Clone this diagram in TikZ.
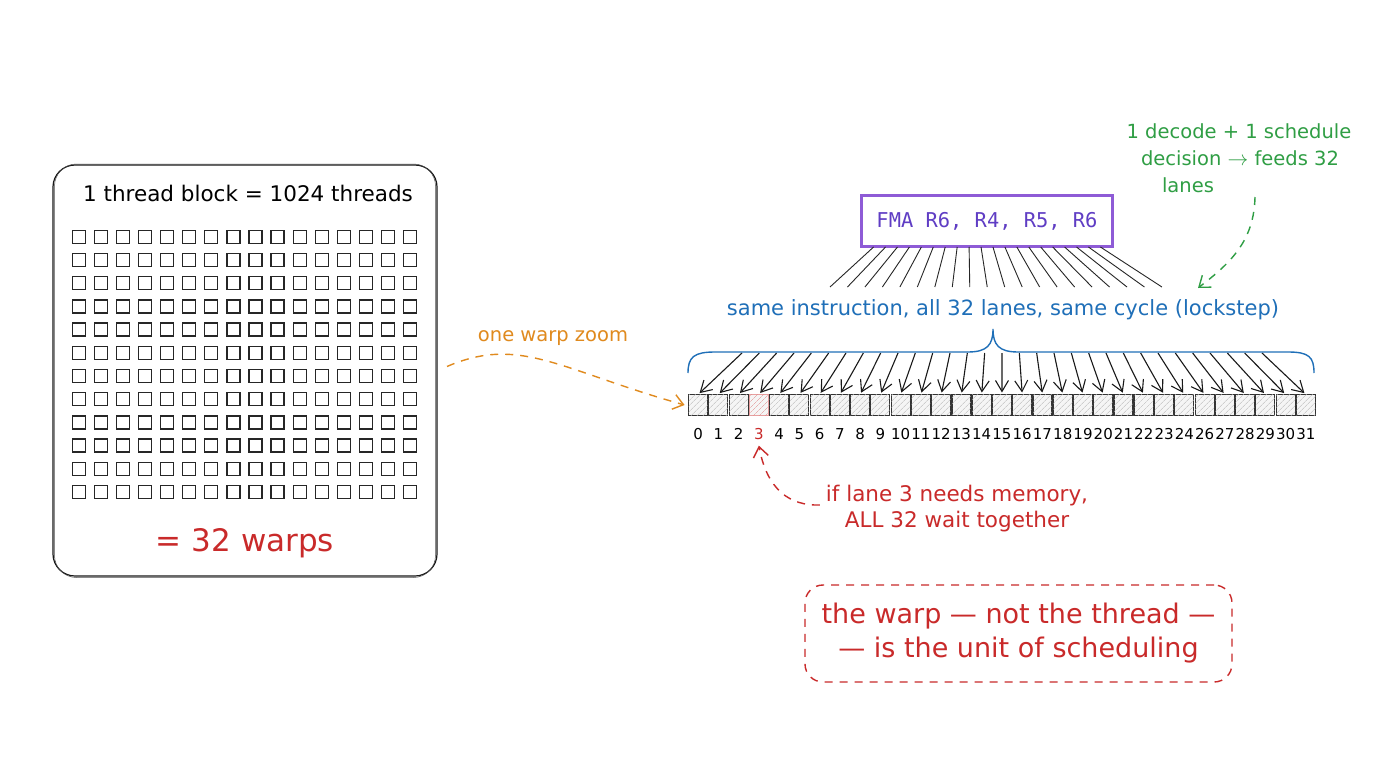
\documentclass[tikz,border=0pt]{standalone}
\usepackage{fontspec}
\setmainfont{DejaVu Sans}
\setmonofont{DejaVu Sans Mono}
\usetikzlibrary{arrows.meta,patterns.meta,calc}
\definecolor{cred}{HTML}{C92A2A}
\definecolor{corange}{HTML}{E08A1E}
\definecolor{cblue}{HTML}{1F6FB8}
\definecolor{cgreen}{HTML}{2F9E44}
\definecolor{cpurple}{HTML}{5F3DC4}
\definecolor{cpurpleb}{HTML}{8E5BD6}
\begin{document}
\begin{tikzpicture}[x=1pt,y=-1pt,
  every node/.style={inner sep=0pt,outer sep=0pt},
  cell/.style={draw=black!85,line width=1.3pt,minimum size=13pt},
  lane/.style={draw=black!80,line width=1.1pt,minimum width=19pt,minimum height=21pt,fill=gray!8,
     postaction={pattern={Lines[angle=45,distance=4pt,line width=0.45pt]},pattern color=#1}},
  lane/.default=gray!55,
  lanelbl/.style={font=\fontsize{15}{17}\selectfont},
  fanline/.style={line width=0.9pt,draw=black!85},
  lanearrow/.style={line width=1.1pt,draw=black!90,-{Straight Barb[length=11pt,width=13pt,line width=1.1pt]},shorten >=2pt},
  dashedconn/.style={line width=1.4pt,dash pattern=on 8pt off 7pt},
  bigtip/.style={-{Straight Barb[length=10pt,width=15pt,line width=1.4pt]}}
]
\fill[white] (0,0) rectangle (1376,768);
\useasboundingbox (0,0) rectangle (1376,768);

% thread block
\node[draw=black!90,line width=1.2pt,rounded corners=22pt,minimum width=384pt,minimum height=411pt] (block) at (245,370.5) {};
\draw[black!70,line width=0.5pt,rounded corners=22pt] (54.5,164) rectangle (435.5,577.5);
\node[font=\fontsize{21.5}{26}\selectfont] (title) at (248,193) {1 thread block = 1024 threads};
\foreach \r in {0,...,11}{
  \foreach \c in {0,...,15}{
    \node[cell] (c-\r-\c) at ({78.7+22.1*\c},{236.8+23.2*\r}) {};
  }
}
\node[text=cred,font=\fontsize{31}{36}\selectfont] (warps) at (245,543) {= 32 warps};

% zoom connector
\node[text=corange,font=\fontsize{19.5}{24}\selectfont] (zoomlbl) at (553,338) {one warp zoom};

% lanes
\foreach \i in {0,...,30}{
  \ifnum\i=3 \def\lc{cred!55}\else\def\lc{gray!55}\fi
  \node[lane=\lc] (lane\i) at ({698.1+20.258*\i},405) {};
}
\node[lane=cred!55,draw=cred!45] at (lane3) {};
\foreach \n [count=\j from 0] in {0,1,...,24,26,27,28,29,30,31}{
  \ifnum\n=3 \def\tc{cred}\else\def\tc{black}\fi
  \node[lanelbl,text=\tc] (lbl\j) at ([yshift=-18.5pt]lane\j.south) {\n};
}
\draw[dashedconn,corange,bigtip] ([xshift=10pt,yshift=4pt]block.east) .. controls (520,335) and (560,370) .. ([xshift=-4pt]lane0.west);

% lane arrows
\foreach \i in {0,...,30}{
  \coordinate (as\i) at ({742+17.333*\i},353);
  \draw[lanearrow] (as\i) -- (lane\i.north);
}

% brace
\draw[cblue,line width=1.4pt] (688,373) .. controls (688,357) and (694,352) .. (715,352) -- (968,352) .. controls (987,352) and (993,345) .. (993,329) .. controls (993,345) and (999,352) .. (1018,352) -- (1288,352) .. controls (1309,352) and (1314,357) .. (1314,373);
\node[text=cblue,font=\fontsize{21}{25}\selectfont] (lockstep) at (1003,310) {same instruction, all 32 lanes, same cycle (lockstep)};

% instruction
\node[draw=cpurpleb,line width=1.3pt,minimum width=252pt,minimum height=52pt,text=cpurple,font=\ttfamily\fontsize{20.4}{24}\selectfont] (fma) at (987,221) {FMA R6, R4, R5, R6};
\draw[cpurpleb,line width=0.5pt] (862.5,196.5) rectangle (1111.5,245.5);
\foreach \k in {0,...,19}{
  \coordinate (fe\k) at ({830+17.47*\k},287);
  \draw[fanline] ($(fma.south west)!{0.05+0.9*\k/19}!(fma.south east)$) -- (fe\k);
}

% decode note
\node[text=cgreen,font=\fontsize{19.5}{24}\selectfont] (g1) at (1239,131) {1 decode + 1 schedule};
\node[text=cgreen,font=\fontsize{19.5}{24}\selectfont] (g2) at (1240,158) {decision $\rightarrow$ feeds 32};
\node[text=cgreen,font=\fontsize{19.5}{24}\selectfont] (g3) at (1188,185) {lanes};
\coordinate (gs) at (1255,197);
\coordinate (ge) at (1198,288);
\draw[dashedconn,cgreen,bigtip] (gs) .. controls (1254,240) and (1232,262) .. (ge);

% memory note
\node[text=cred,align=center,font=\fontsize{21.5}{26}\selectfont] (mem) at (957,509) {if lane 3 needs memory,\\ALL 32 wait together};
\draw[dashedconn,cred,bigtip] ([xshift=-6pt,yshift=4pt]mem.west) .. controls (790,506) and (767,490) .. ([yshift=-6pt]lbl3.south);

% takeaway
\node[draw=cred,dashedconn,rounded corners=18pt,minimum width=427pt,minimum height=97pt,text=cred,align=center,font=\fontsize{27}{34}\selectfont] (unit) at (1018.5,633.5) {the warp — not the thread —\\— is the unit of scheduling};
\end{tikzpicture}
\end{document}
